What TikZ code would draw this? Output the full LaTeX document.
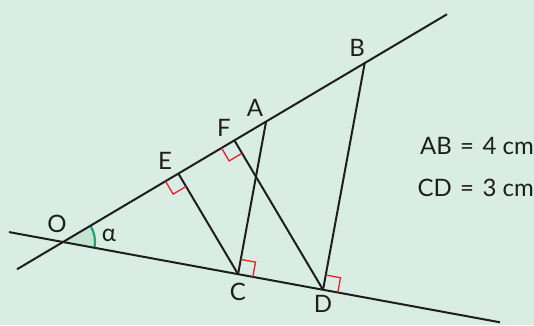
\documentclass[tikz,border=0pt]{standalone}
\usepackage{fontspec}
\setmainfont{Lato}
\usetikzlibrary{calc}
\definecolor{bg}{HTML}{D9EDE5}
\definecolor{arcg}{HTML}{1CA56F}
\definecolor{secf}{HTML}{C3E3D5}
\definecolor{ink}{HTML}{1E1E1E}
\definecolor{rmk}{HTML}{E8202A}
\newcommand\rmark[3]{\draw[rightang] ($(#1)!15pt!(#2)$) -- ($(#1)!15pt!(#2)+(#1)!15pt!(#3)-(#1)$) -- ($(#1)!15pt!(#3)$);}
\tikzset{
  geo/.style={draw=ink, line width=2pt},
  rightang/.style={draw=rmk, line width=1.3pt},
  lbl/.style={font=\fontsize{24}{27}\selectfont, text=ink, inner sep=0pt},
}
\begin{document}
\begin{tikzpicture}[x=1pt,y=1pt]
\fill[bg] (0,0) rectangle (534,325);
\useasboundingbox (0,0) rectangle (534,325);
\coordinate (O) at (63,83);
\coordinate (L1) at ($(O)+(169.59:54.9)$);
\coordinate (L2) at ($(O)+(-10.41:444.3)$);
\coordinate (U1) at ($(O)+(210.67:53.5)$);
\coordinate (U2) at ($(O)+(30.67:446.5)$);
\coordinate (C) at ($(O)+(-10.41:178)$);
\coordinate (D) at ($(O)+(-10.41:264.4)$);
\coordinate (A) at ($(O)+(30.67:236.1)$);
\coordinate (B) at ($(O)+(30.67:350.8)$);
\coordinate (E) at ($(O)!(C)!(U2)$);
\coordinate (F) at ($(O)!(D)!(U2)$);
% angle sector
\fill[secf] (O) -- ($(O)+(-10.41:32)$) arc[start angle=-10.41, end angle=30.67, radius=32] -- cycle;
\draw[arcg, line width=2.2pt] ($(O)+(-10.41:32)$) arc[start angle=-10.41, end angle=30.67, radius=32];
% lines
\draw[geo] (L1) -- (L2);
\draw[geo] (U1) -- (U2);
\draw[geo] (A) -- (C);
\draw[geo] (B) -- (D);
\draw[geo] (E) -- (C);
\draw[geo] (F) -- (D);
% right angle marks
\rmark{E}{O}{C}
\rmark{F}{O}{D}
\rmark{C}{A}{D}
\rmark{D}{B}{L2}
% labels
\node[lbl] (lO) at (57,101) {O};
\node[lbl] (la) at (109,90) {α};
\node[lbl] (lE) at (165,164) {E};
\node[lbl] (lF) at (224,197) {F};
\node[lbl] (lA) at (255,217) {A};
\node[lbl] (lB) at (357,277) {B};
\node[lbl] (lC) at (238,33) {C};
\node[lbl] (lD) at (323,21) {D};
\node[lbl, anchor=east] (t1) at (534,179) {AB\hspace{0.35em}=\hspace{0.35em}4 cm};
\node[lbl, anchor=east] (t2) at (534,137) {CD\hspace{0.35em}=\hspace{0.35em}3 cm};
\end{tikzpicture}
\end{document}
